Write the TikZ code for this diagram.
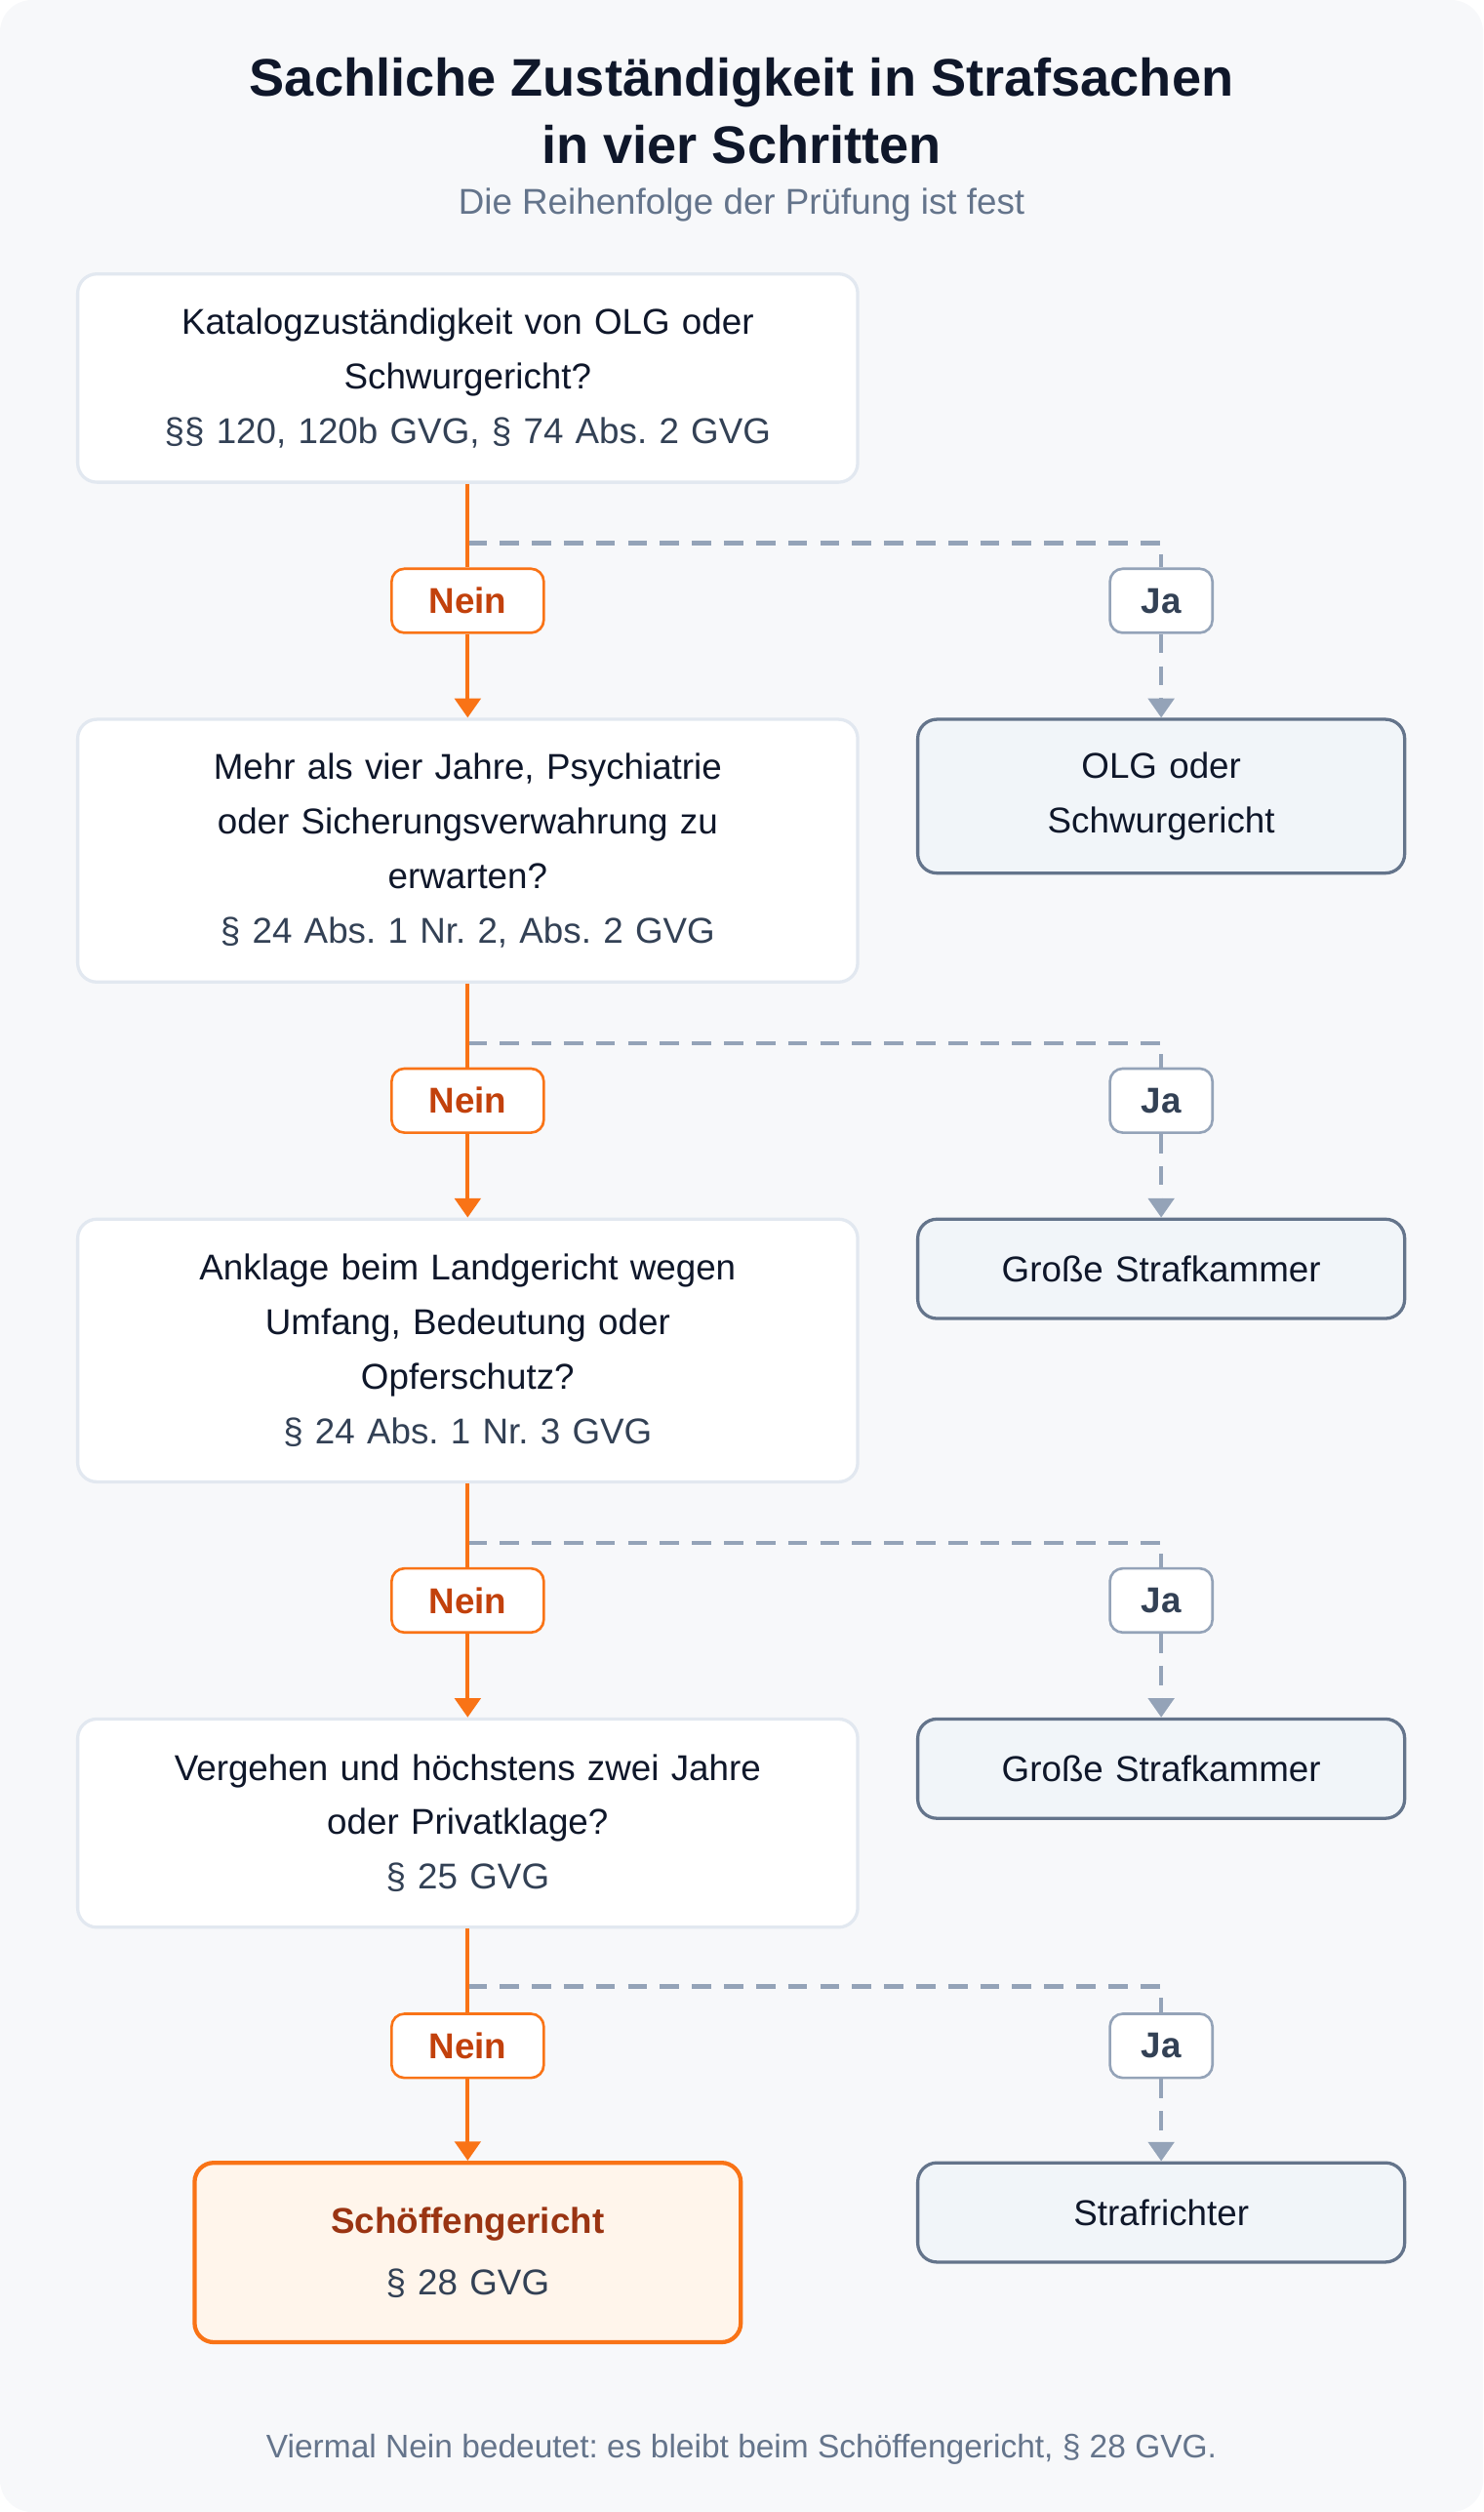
\documentclass[tikz,border=0pt]{standalone}
\usepackage{fontspec}
\setmainfont{Liberation Sans}
\frenchspacing
\usetikzlibrary{arrows.meta}
\definecolor{bgc}{HTML}{F7F8FA}
\definecolor{titc}{HTML}{0F172A}
\definecolor{subc}{HTML}{64748B}
\definecolor{refc}{HTML}{334155}
\definecolor{brdc}{HTML}{E2E8F0}
\definecolor{orgc}{HTML}{F97316}
\definecolor{neinc}{HTML}{C2410C}
\definecolor{endc}{HTML}{9A3412}
\definecolor{endf}{HTML}{FFF5EB}
\definecolor{dashc}{HTML}{94A3B8}
\definecolor{resf}{HTML}{F1F5F9}
\begin{document}
\begin{tikzpicture}[x=0.5pt,y=-0.5pt,
  frage/.style={draw=brdc,line width=1pt,fill=white,rounded corners=6pt,minimum width=243.5pt,
    text width=230pt,align=center,font=\fontsize{11.2}{17}\selectfont,text=titc},
  result/.style={draw=subc,line width=1pt,fill=resf,rounded corners=6pt,minimum width=152pt,
    text width=140pt,align=center,font=\fontsize{11.2}{17}\selectfont,text=titc},
  nein/.style={draw=orgc,line width=0.8pt,fill=white,rounded corners=4pt,minimum width=47.5pt,
    minimum height=20pt,font=\bfseries\fontsize{11.2}{13}\selectfont,text=neinc},
  ja/.style={draw=dashc,line width=0.8pt,fill=white,rounded corners=4pt,minimum width=32pt,
    minimum height=20pt,font=\bfseries\fontsize{11.2}{13}\selectfont,text=refc},
  no/.style={draw=orgc,line width=1.3pt},
  yes/.style={draw=dashc,line width=1.3pt,dash pattern=on 6pt off 4pt},
  tip/.style={-{Triangle[length=6pt,width=8pt]}}]
\fill[bgc,rounded corners=10pt] (0,0) rectangle (926,1568);
\useasboundingbox (0,0) rectangle (926,1568);
% title
\node[font=\bfseries\fontsize{16.5}{21}\selectfont,text=titc,align=center] (title) at (463,69)
  {Sachliche Zuständigkeit in Strafsachen\\in vier Schritten};
\node[font=\fontsize{11.2}{13}\selectfont,text=subc] (sub) at (463,128) {Die Reihenfolge der Prüfung ist fest};
% steps
\node[frage,minimum height=65pt] (s1) at (292,236)
  {Katalogzuständigkeit von OLG oder\\Schwurgericht?\\\textcolor{refc}{§§ 120, 120b GVG, § 74 Abs. 2 GVG}};
\node[frage,minimum height=82pt] (s2) at (292,531)
  {Mehr als vier Jahre, Psychiatrie\\oder Sicherungsverwahrung zu\\erwarten?\\\textcolor{refc}{§ 24 Abs. 1 Nr. 2, Abs. 2 GVG}};
\node[frage,minimum height=82pt] (s3) at (292,843)
  {Anklage beim Landgericht wegen\\Umfang, Bedeutung oder\\Opferschutz?\\\textcolor{refc}{§ 24 Abs. 1 Nr. 3 GVG}};
\node[frage,minimum height=65pt] (s4) at (292,1138)
  {Vergehen und höchstens zwei Jahre\\oder Privatklage?\\\textcolor{refc}{§ 25 GVG}};
\node[frage,draw=orgc,fill=endf,line width=1.3pt,minimum width=170.5pt,text width=160pt,minimum height=56pt] (s5) at (292,1406)
  {\textbf{\textcolor{endc}{Schöffengericht}}\\[2pt]\textcolor{refc}{§ 28 GVG}};
% results
\node[result,minimum height=48pt] (r1) at (725,497) {OLG oder\\Schwurgericht};
\node[result,minimum height=31pt] (r2) at (725,792) {Große Strafkammer};
\node[result,minimum height=31pt] (r3) at (725,1104) {Große Strafkammer};
\node[result,minimum height=31pt] (r4) at (725,1381) {Strafrichter};
% labels
\node[nein] (n1) at (292,375) {Nein};
\node[nein] (n2) at (292,687) {Nein};
\node[nein] (n3) at (292,999) {Nein};
\node[nein] (n4) at (292,1277) {Nein};
\node[ja] (j1) at (725,375) {Ja};
\node[ja] (j2) at (725,687) {Ja};
\node[ja] (j3) at (725,999) {Ja};
\node[ja] (j4) at (725,1277) {Ja};
\coordinate (k1) at (292,339);
\coordinate (k2) at (292,651);
\coordinate (k3) at (292,963);
\coordinate (k4) at (292,1240);
% ja branches
\draw[yes] (k1) -| (j1.north);
\draw[yes,tip] (j1) -- (r1);
\draw[yes] (k2) -| (j2.north);
\draw[yes,tip] (j2) -- (r2);
\draw[yes] (k3) -| (j3.north);
\draw[yes,tip] (j3) -- (r3);
\draw[yes] (k4) -| (j4.north);
\draw[yes,tip] (j4) -- (r4);
% nein branches
\draw[no] (s1) -- (n1);
\draw[no,tip] (n1) -- (s2);
\draw[no] (s2) -- (n2);
\draw[no,tip] (n2) -- (s3);
\draw[no] (s3) -- (n3);
\draw[no,tip] (n3) -- (s4);
\draw[no] (s4) -- (n4);
\draw[no,tip] (n4) -- (s5);
% footer
\node[font=\fontsize{10.2}{12}\selectfont,text=subc] (foot) at (463,1529)
  {Viermal Nein bedeutet: es bleibt beim Schöffengericht, § 28 GVG.};
\end{tikzpicture}
\end{document}
